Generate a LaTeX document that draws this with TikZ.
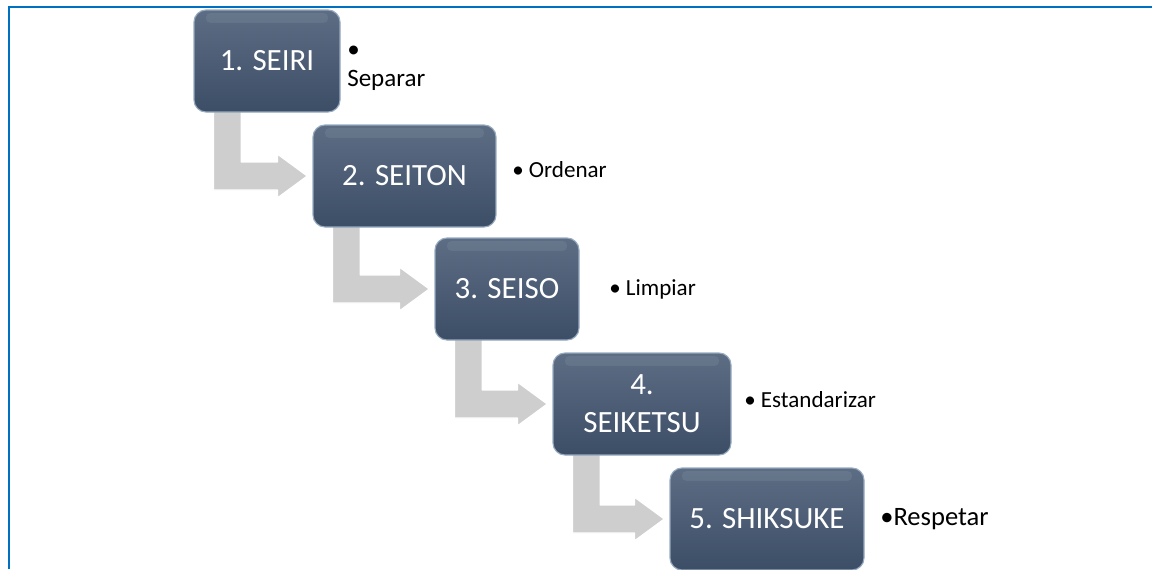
\documentclass[tikz,border=0pt]{standalone}
\usepackage{fontspec}
\setmainfont{Carlito}
\usetikzlibrary{calc,backgrounds}

\definecolor{framecol}{RGB}{0,112,192}
\definecolor{boxtop}{RGB}{92,109,132}
\definecolor{boxbot}{RGB}{60,77,102}
\definecolor{boxedge}{RGB}{150,170,192}
\definecolor{arrowfill}{RGB}{206,206,206}

\tikzset{
	stepbox/.style={rounded corners=0.3cm, top color=boxtop, bottom color=boxbot,
		draw=boxedge, line width=0.8pt, text=white, minimum height=2.55cm,
		inner sep=0pt, align=center, font=\fontsize{22}{27}\selectfont,
		path picture={\fill[white, opacity=0.07, rounded corners=0.1cm]
			([xshift=0.3cm,yshift=-0.08cm]path picture bounding box.north west) rectangle
			([xshift=-0.3cm,yshift=-0.32cm]path picture bounding box.north east);}},
	bentarrow/.style={fill=arrowfill, draw=white, line width=1pt, line join=round},
	desc/.style={inner sep=0pt, align=left, anchor=base west, font=\fontsize{16.4}{19}\selectfont}
}

\begin{document}
\begin{tikzpicture}[scale=1]
		\useasboundingbox (0,0) rectangle (28.8,-14.225);
		%frame
		\draw[framecol, line width=1.8pt] (28.8,-0.175) -- (0.225,-0.175) -- (0.225,-14.225);
		
		\node[stepbox, minimum width=3.65cm] (s1) at (6.675,-1.525) {1. SEIRI};
		\node[stepbox, minimum width=4.575cm] (s2) at (10.1125,-4.4) {2. SEITON};
		\node[stepbox, minimum width=3.6cm] (s3) at (12.675,-7.225) {3. SEISO};
		\node[stepbox, minimum width=4.45cm] (s4) at (16.05,-10.1) {4.\\SEIKETSU};
		\node[stepbox, minimum width=4.85cm] (s5) at (19.175,-12.975) {5. SHIKSUKE};
		
		\node[desc, anchor=north west, font=\fontsize{17.8}{20.5}\selectfont] (d1) at (8.675,-1.15) {\textbullet\\Separar};
		\node[desc] (d2) at (12.8,-4.425) {\textbullet\ Ordenar};
		\node[desc] (d3) at (15.225,-7.375) {\textbullet\ Limpiar};
		\node[desc] (d4) at (18.6,-10.175) {\textbullet\ Estandarizar};
		\node[desc, font=\fontsize{18.9}{22}\selectfont] (d5) at (22.0,-13.125) {\textbullet Respetar};
		
		\begin{scope}[on background layer]
			\foreach \a/\b in {s1/s2,s2/s3,s3/s4,s4/s5}{
				\path ($(\a.south west)+(0.5,0.1)$) coordinate (t)
				($(\b.west)+(-0.125,0)$) coordinate (h);
				\filldraw[bentarrow] (t) -- ($(t |- h)+(0,-0.35)$) -- ($(h)+(-0.75,-0.35)$)
				-- ($(h)+(-0.75,-0.55)$) -- (h) -- ($(h)+(-0.75,0.55)$) -- ($(h)+(-0.75,0.35)$)
				-- ($(t |- h)+(0.7,0.35)$) -- ($(t)+(0.7,0)$) -- cycle;
			}
		\end{scope}
\end{tikzpicture}
\end{document}
